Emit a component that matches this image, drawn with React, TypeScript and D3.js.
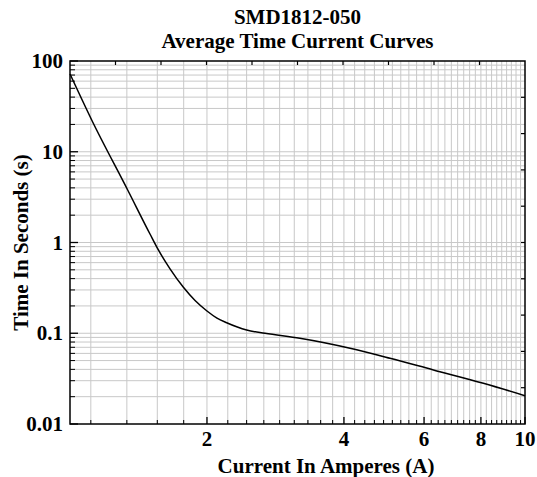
import React from "react";
import * as d3 from "d3";

const titleLines = ["SMD1812-050", "Average Time Current Curves"];
const xTitle = "Current In Amperes (A)";
const yTitle = "Time In Seconds (s)";

const currentA = [1, 1.116, 1.339, 1.499, 1.564, 1.659, 1.775, 1.883, 2.0, 2.104, 2.21, 2.445, 2.683, 3.2, 4.125, 5.05, 6.29, 8.1, 10];
const timeS = [72, 22.4, 3.79, 1.24, 0.827, 0.513, 0.321, 0.2296, 0.176, 0.147, 0.1307, 0.1086, 0.0999, 0.088, 0.0683, 0.053, 0.0394, 0.0281, 0.0205];

const xMajor = [2, 4, 6, 8, 10];
const xMajorLabels = ["2", "4", "6", "8", "10"];
const yMajor = [0.01, 0.1, 1, 10, 100];
const yMajorLabels = ["0.01", "0.1", "1", "10", "100"];

const W = 537, H = 477;
const L = 70, R = 525, T = 61, B = 424;

export default function App() {
  const x = d3.scaleLog().domain([1, 10]).range([L, R]);
  const y = d3.scaleLog().domain([0.01, 100]).range([B, T]);

  const xMinor: number[] = [];
  [0, 2, 4, 6, 8].forEach((s) => {
    for (let k = 1; k <= 8; k++) {
      const v = s + (2 * k) / 9;
      if (v > 1.0001 && v < 10) xMinor.push(v);
    }
  });
  const yMinor: number[] = [];
  [0.01, 0.1, 1, 10].forEach((d) => {
    for (let k = 2; k <= 9; k++) yMinor.push(d * k);
  });

  const topTicks = d3.range(1, 10).map((i) => L + ((R - L) * i) / 10);
  const rightTicks = d3.range(1, 10).map((i) => T + ((B - T) * i) / 10);

  const pts: [number, number][] = currentA.map((c, i) => [x(c), y(timeS[i])]);
  const line = d3.line().curve(d3.curveMonotoneX)(pts) || "";

  const font = "'Liberation Serif', 'Times New Roman', serif";
  const grid = "#c8c8c8";
  const fs = 21;

  return (
    <svg width={W} height={H} style={{ position: "absolute", left: 0, top: 0 }} fontFamily={font}>
      <rect width={W} height={H} fill="#fff" />
      {[...xMinor, ...xMajor.filter((v) => v < 10)].map((v, i) => (
        <line key={"gx" + i} x1={x(v)} x2={x(v)} y1={T} y2={B} stroke={grid} strokeWidth={1} />
      ))}
      {[...yMinor, ...yMajor.filter((v) => v > 0.01 && v < 100)].map((v, i) => (
        <line key={"gy" + i} x1={L} x2={R} y1={y(v)} y2={y(v)} stroke={grid} strokeWidth={1} />
      ))}
      <path d={line} fill="none" stroke="#000" strokeWidth={1.5} />
      <rect x={L} y={T} width={R - L} height={B - T} fill="none" stroke="#000" strokeWidth={1.5} />
      {xMajor.map((v, i) => (
        <line key={"xt" + i} x1={x(v)} x2={x(v)} y1={B} y2={B - 7} stroke="#000" strokeWidth={1.3} />
      ))}
      {xMinor.map((v, i) => (
        <line key={"xm" + i} x1={x(v)} x2={x(v)} y1={B} y2={B - 4} stroke="#000" strokeWidth={1} />
      ))}
      {yMajor.map((v, i) => (
        <line key={"yt" + i} x1={L} x2={L + 8} y1={y(v)} y2={y(v)} stroke="#000" strokeWidth={1.3} />
      ))}
      {yMinor.map((v, i) => (
        <line key={"ym" + i} x1={L} x2={L + 5} y1={y(v)} y2={y(v)} stroke="#000" strokeWidth={1} />
      ))}
      {topTicks.map((px, i) => (
        <line key={"tt" + i} x1={px} x2={px} y1={T} y2={T + 4} stroke="#000" strokeWidth={1.2} />
      ))}
      {rightTicks.map((py, i) => (
        <line key={"rt" + i} x1={R} x2={R - 4} y1={py} y2={py} stroke="#000" strokeWidth={1.2} />
      ))}
      {xMajor.map((v, i) => (
        <text key={"xl" + i} x={x(v)} y={446} textAnchor="middle" fontSize={fs} fontWeight="bold">
          {xMajorLabels[i]}
        </text>
      ))}
      {yMajor.map((v, i) => (
        <text key={"yl" + i} x={63} y={y(v) + 7} textAnchor="end" fontSize={fs} fontWeight="bold">
          {yMajorLabels[i]}
        </text>
      ))}
      <text x={326} y={473} textAnchor="middle" fontSize={fs} fontWeight="bold">
        {xTitle}
      </text>
      <text
        transform={`translate(28,${(T + B) / 2}) rotate(-90)`}
        textAnchor="middle"
        fontSize={fs}
        fontWeight="bold"
      >
        {yTitle}
      </text>
      {titleLines.map((t, i) => (
        <text key={"t" + i} x={(L + R) / 2} y={24 + i * 24} textAnchor="middle" fontSize={fs} fontWeight="bold">
          {t}
        </text>
      ))}
    </svg>
  );
}
